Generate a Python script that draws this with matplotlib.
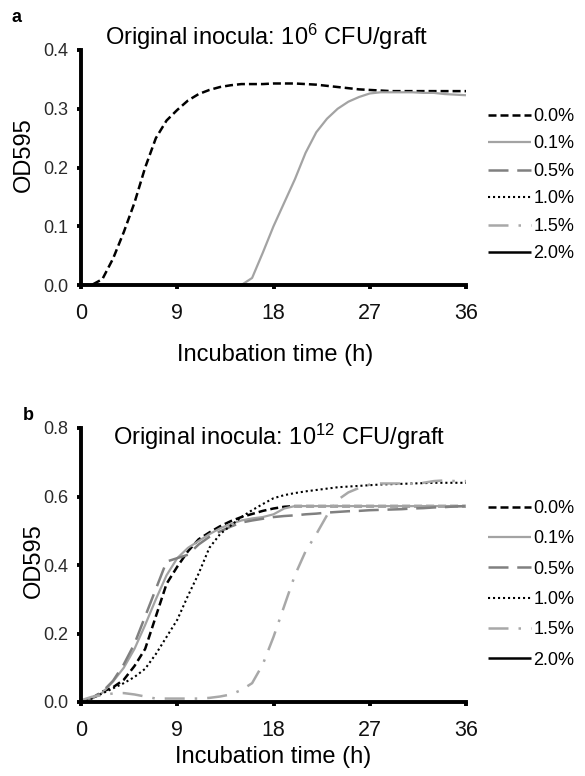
import numpy as np
import matplotlib
matplotlib.use("Agg")
import matplotlib.pyplot as plt

plt.rcParams['font.family'] = ['Liberation Sans', 'DejaVu Sans']
plt.rcParams['mathtext.fontset'] = 'custom'
plt.rcParams['mathtext.rm'] = 'Liberation Sans'

time_h = list(range(0, 37))
concentrations = ["0.0%", "0.1%", "0.5%", "1.0%", "1.5%", "2.0%"]

# Panel a: original inocula 10^6 CFU/graft
a_00 = [0, 0, 0.01, 0.045, 0.09, 0.14, 0.2, 0.25, 0.28, 0.298, 0.314, 0.325, 0.332,
        0.337, 0.34, 0.342, 0.342, 0.342, 0.343, 0.343, 0.343, 0.342, 0.341, 0.339,
        0.337, 0.335, 0.333, 0.332, 0.331, 0.330, 0.330, 0.330, 0.330, 0.330, 0.330,
        0.330, 0.330]
a_01 = [0] * 16 + [0.012, 0.055, 0.1, 0.14, 0.18, 0.225, 0.26, 0.283, 0.3, 0.312, 0.32,
                   0.326, 0.328, 0.328, 0.328, 0.328, 0.327, 0.327, 0.325, 0.324, 0.323]
a_05 = [0] * 37
a_10 = [0] * 37
a_15 = [0] * 37
a_20 = [0] * 37

# Panel b: original inocula 10^12 CFU/graft
b_00 = [0.0, 0.01, 0.03, 0.043, 0.065, 0.105, 0.155, 0.25, 0.345, 0.395, 0.44, 0.475,
        0.495, 0.513, 0.528, 0.54, 0.549, 0.558, 0.565, 0.57] + [0.572] * 17
b_01 = [0.0, 0.01, 0.027, 0.06, 0.1, 0.155, 0.225, 0.3, 0.37, 0.42, 0.45, 0.47, 0.49,
        0.507, 0.52, 0.53, 0.536, 0.54, 0.548, 0.565] + [0.572] * 17
b_05 = [0.0, 0.012, 0.03, 0.062, 0.11, 0.17, 0.25, 0.33, 0.41, 0.42, 0.43, 0.46, 0.482,
        0.498, 0.512, 0.524, 0.53, 0.535, 0.54, 0.543, 0.545, 0.548, 0.55, 0.553, 0.555,
        0.557, 0.558, 0.56, 0.561, 0.562, 0.563, 0.565, 0.566, 0.568, 0.569, 0.571, 0.572]
b_10 = [0.0, 0.01, 0.025, 0.04, 0.055, 0.073, 0.097, 0.14, 0.19, 0.24, 0.31, 0.375, 0.45,
        0.49, 0.515, 0.54, 0.56, 0.578, 0.595, 0.604, 0.61, 0.615, 0.619, 0.623, 0.627,
        0.629, 0.631, 0.633, 0.635, 0.636, 0.637, 0.638, 0.639, 0.64, 0.64, 0.64, 0.64]
b_15 = [0.005, 0.015, 0.02, 0.025, 0.026, 0.022, 0.016, 0.01, 0.01, 0.01, 0.01, 0.01,
        0.012, 0.016, 0.022, 0.035, 0.055, 0.11, 0.19, 0.28, 0.37, 0.44, 0.49, 0.545,
        0.59, 0.612, 0.625, 0.635, 0.638, 0.638, 0.638, 0.637, 0.64, 0.645, 0.647, 0.645,
        0.645]
b_20 = [0] * 37

x_ticks = [0, 9, 18, 27, 36]
a_yticks = [0.0, 0.1, 0.2, 0.3, 0.4]
b_yticks = [0.0, 0.2, 0.4, 0.6, 0.8]

styles = [
    dict(color='black', lw=1.8, dashes=(3.2, 1.6)),
    dict(color='#a3a3a3', lw=1.6, linestyle='-'),
    dict(color='#808080', lw=1.8, dashes=(8, 3.5)),
    dict(color='black', lw=1.5, dashes=(1, 1.4)),
    dict(color='#a8a8a8', lw=1.8, dashes=(8, 4, 1, 4)),
    dict(color='black', lw=1.8, linestyle='-'),
]

fig = plt.figure(figsize=(5.85, 7.76), dpi=100)
W, H = 585, 776

def px_axes(l, t, r, b):
    return fig.add_axes([l / W, 1 - b / H, (r - l) / W, (b - t) / H])

ax_a = px_axes(81, 50, 466, 285)
ax_b = px_axes(81, 428, 466, 702)

def setup(ax, series, yticks, ymax, leg_top, spacing):
    for s, st, lab in zip(series, styles, concentrations):
        ax.plot(time_h, s, label=lab, solid_capstyle='butt', **st)
    ax.set_xlim(0, 36)
    ax.set_ylim(0, ymax)
    ax.set_xticks(x_ticks)
    ax.set_xticklabels([str(v) for v in x_ticks])
    ax.set_yticks(yticks)
    ax.set_yticklabels([f"{v:.1f}" for v in yticks])
    for sp in ['top', 'right']:
        ax.spines[sp].set_visible(False)
    for sp in ['left', 'bottom']:
        ax.spines[sp].set_linewidth(2.8)
    ax.tick_params(axis='both', direction='out', length=3, width=2.8, color='black')
    ax.tick_params(axis='y', labelsize=13, pad=6, labelcolor='#2a2a2a')
    ax.tick_params(axis='x', labelsize=15.5, pad=10, labelcolor='#111111')
    ax.margins(0)
    leg = ax.legend(loc='upper left', bbox_to_anchor=(488 / W, 1 - leg_top / H),
                    bbox_transform=fig.transFigure, frameon=False, fontsize=13,
                    handlelength=2.4, handletextpad=0.1, labelspacing=spacing,
                    borderpad=0, borderaxespad=0)
    return leg

setup(ax_a, [a_00, a_01, a_05, a_10, a_15, a_20], a_yticks, 0.4, 108, 0.58)
setup(ax_b, [b_00, b_01, b_05, b_10, b_15, b_20], b_yticks, 0.8, 500, 0.74)

fs = 17
fig.text(267 / W, 1 - 37 / H, r'Original inocula: $\mathregular{10^{6}}$ CFU/graft',
         ha='center', va='center', fontsize=fs)
fig.text(279 / W, 1 - 437 / H, r'Original inocula: $\mathregular{10^{12}}$ CFU/graft',
         ha='center', va='center', fontsize=fs)
fig.text(24 / W, 1 - 155 / H, 'OD595', rotation=90, ha='center', va='center', fontsize=fs)
fig.text(34 / W, 1 - 561 / H, 'OD595', rotation=90, ha='center', va='center', fontsize=fs)
fig.text(275 / W, 1 - 355 / H, 'Incubation time (h)', ha='center', va='center', fontsize=fs)
fig.text(273 / W, 1 - 757 / H, 'Incubation time (h)', ha='center', va='center', fontsize=fs)
fig.text(16 / W, 1 - 18 / H, 'a', ha='center', va='center', fontsize=13, fontweight='bold')
fig.text(28 / W, 1 - 416 / H, 'b', ha='center', va='center', fontsize=13, fontweight='bold')

fig.savefig('out.png', dpi=100)
